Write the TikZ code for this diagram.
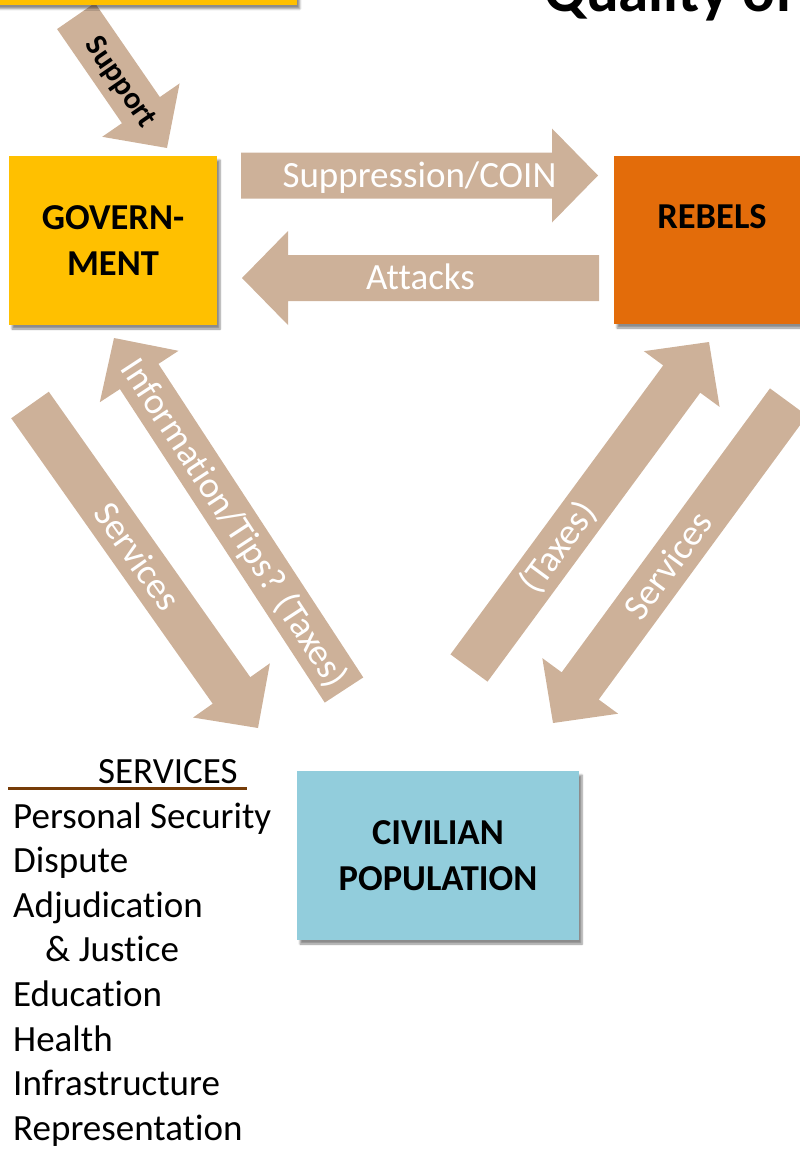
\documentclass[tikz,border=0pt]{standalone}
\usepackage{fontspec}
\setmainfont{Carlito}[Ligatures=NoCommon]
\usetikzlibrary{calc,shadows.blur}
\definecolor{arrowtan}{RGB}{205,177,153}
\definecolor{govyellow}{RGB}{255,192,0}
\definecolor{rebelorange}{RGB}{227,108,10}
\definecolor{civblue}{RGB}{146,205,220}
\definecolor{ulbrown}{RGB}{118,60,8}
% block arrow: #1t = tail centre, #1p = tip
\newcommand\blockarrow[1]{%
  \coordinate (#1h) at ($(#1p)!46pt!(#1t)$);
  \fill[arrowtan] ($(#1t)!23pt!90:(#1p)$) -- ($(#1h)!23pt!90:(#1p)$)
    -- ($(#1h)!47pt!90:(#1p)$) -- (#1p) -- ($(#1h)!47pt!-90:(#1p)$)
    -- ($(#1h)!23pt!-90:(#1p)$) -- ($(#1t)!23pt!-90:(#1p)$) -- cycle;
}
\tikzset{
  boxshadow/.style={blur shadow={shadow xshift=3pt,shadow yshift=-4pt,shadow blur steps=6,shadow opacity=45}},
  box/.style={boxshadow, inner sep=0pt, align=center,
    font=\fontsize{36.5}{46}\selectfont\bfseries, text=black},
  arrowtext/.style={text=white, font=\fontsize{37}{44}\selectfont,
    text height=23.5pt, text depth=0pt, inner sep=0pt},
  listtext/.style={anchor=base west, inner sep=0pt, font=\fontsize{37}{44}\selectfont}
}
\begin{document}
\begin{tikzpicture}[x=1pt,y=-1pt]
\useasboundingbox (0,0) rectangle (800,1151);
\clip (0,0) rectangle (800,1151);

% title (cut off at the top)
\node[anchor=base west, inner sep=0pt, font=\fontsize{61}{61}\selectfont\bfseries] (title) at (544,12) {Quality of};

% Support arrow (drawn under the top box)
\coordinate (supt) at (76,16);
\coordinate (supp) at (167,148);
\blockarrow{sup}
\path (supt) -- (supp) node[pos=0.5, sloped, inner sep=0pt, text height=19pt, text depth=0pt,
  font=\fontsize{31}{32}\selectfont\bfseries] (suplabel) {Support};

% boxes
\node[box, fill=govyellow, minimum width=307pt, minimum height=105pt, anchor=south east] (top) at (297,5) {};
\node[box, fill=govyellow, minimum width=208pt, minimum height=169pt] (gov) at (113,240.5) {GOVERN-\\MENT};
\node[box, fill=rebelorange, minimum width=196pt, minimum height=168pt, text height=23pt, text depth=46pt] (reb) at (712,240) {REBELS};
\node[box, fill=civblue, minimum width=282pt, minimum height=169pt] (civ) at (438,855.5) {CIVILIAN\\POPULATION};

% horizontal arrows
\coordinate (supprt) at (241,175.5);
\coordinate (supprp) at (598,175.5);
\blockarrow{suppr}
\path (supprt) -- (supprp) node[pos=0.5, arrowtext] (supprlabel) {Suppression/COIN};

\coordinate (attt) at (599,278);
\coordinate (attp) at (242,278);
\blockarrow{att}
\path (attt) -- (attp) node[pos=0.5, arrowtext] (attlabel) {Attacks};

% government <-> civilians
\coordinate (gsvt) at (30,405);
\coordinate (gsvp) at (258,728);
\blockarrow{gsv}
\path (gsvt) -- (gsvp) node[pos=0.47, sloped, arrowtext] (gsvlabel) {Services};

\coordinate (infot) at (344,690);
\coordinate (infop) at (114,338);
\blockarrow{info}
\path (infot) -- (infop) node[pos=0.475, sloped, arrowtext] (infolabel) {Information/Tips? (Taxes)};

% rebels <-> civilians
\coordinate (taxt) at (469,668);
\coordinate (taxp) at (709,342);
\blockarrow{tax}
\path (taxt) -- (taxp) node[pos=0.37, sloped, arrowtext] (taxlabel) {(Taxes)};

\coordinate (rsvt) at (788.5,402);
\coordinate (rsvp) at (553,723);
\blockarrow{rsv}
\path (rsvt) -- (rsvp) node[pos=0.51, sloped, arrowtext] (rsvlabel) {Services};

% services list
\node[listtext] (svhead) at (98,783) {SERVICES};
\coordinate (ula) at (8,788.5);
\coordinate (ulb) at (247,788.5);
\draw[ulbrown, line width=3.5pt] (ula) -- (ulb);
\node[listtext] (l1) at (13,828) {Personal Security};
\node[listtext] (l2) at (13,872.6) {Dispute};
\node[listtext] (l3) at (13,917.2) {Adjudication};
\node[listtext] (l4) at (45,961.8) {\&\ Justice};
\node[listtext] (l5) at (13,1006.4) {Education};
\node[listtext] (l6) at (13,1051) {Health};
\node[listtext] (l7) at (13,1095.6) {Infrastructure};
\node[listtext] (l8) at (13,1140.2) {Representation};
\end{tikzpicture}
\end{document}
